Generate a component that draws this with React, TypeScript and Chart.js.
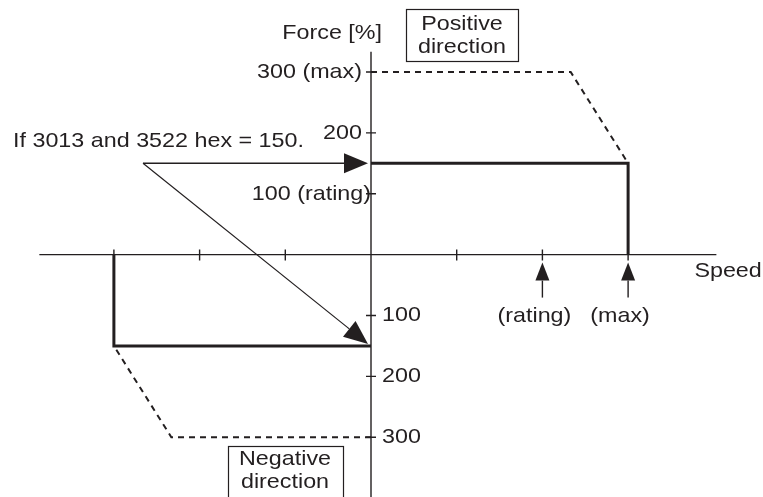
import React, { useEffect, useRef } from "react";
import { Chart, registerables } from "chart.js";

Chart.register(...registerables);

// ---- data ----
const speedTicks = [-3, -2, -1, 1, 2, 3];
const forceTicks = [300, 200, 100, -100, -200, -300];
const forceTickLabels = ["300 (max)", "200", "100 (rating)", "100", "200", "300"];

const posLimitSpeed = [0, 3, 3];
const posLimitForce = [150, 150, 0];
const negLimitSpeed = [0, -3, -3];
const negLimitForce = [-150, -150, 0];

const posMaxSpeed = [0, 2.33, 3];
const posMaxForce = [300, 300, 150];
const negMaxSpeed = [0, -2.33, -3];
const negMaxForce = [-300, -300, -150];

const speedMarks = [2, 3];
const speedMarkLabels = ["(rating)", "(max)"];
const settingValue = 150;
const settingText = "If 3013 and 3522 hex = 150.";

const axisSpeedRange = [-3.87, 4.03];
const axisForceRange = [-400, 333];

const INK = "#231f20";
const FONT_SIZE = 21;
const SX = 1.11;

function pts(xs: number[], ys: number[]) {
  return xs.map((x, i) => ({ x, y: ys[i] }));
}

function text(ctx: CanvasRenderingContext2D, s: string, x: number, y: number, align: "left" | "right" | "center") {
  ctx.save();
  ctx.font = `${FONT_SIZE}px "Liberation Sans", Arial, sans-serif`;
  ctx.fillStyle = INK;
  ctx.textBaseline = "middle";
  ctx.textAlign = align;
  ctx.translate(x, y);
  ctx.scale(SX, 1);
  ctx.fillText(s, 0, 0);
  ctx.restore();
}

function arrow(ctx: CanvasRenderingContext2D, x1: number, y1: number, x2: number, y2: number, len: number, half: number, lw: number) {
  const a = Math.atan2(y2 - y1, x2 - x1);
  const bx = x2 - len * Math.cos(a);
  const by = y2 - len * Math.sin(a);
  ctx.save();
  ctx.strokeStyle = INK;
  ctx.fillStyle = INK;
  ctx.lineWidth = lw;
  ctx.beginPath();
  ctx.moveTo(x1, y1);
  ctx.lineTo(bx, by);
  ctx.stroke();
  ctx.beginPath();
  ctx.moveTo(x2, y2);
  ctx.lineTo(bx + half * Math.sin(a), by - half * Math.cos(a));
  ctx.lineTo(bx - half * Math.sin(a), by + half * Math.cos(a));
  ctx.closePath();
  ctx.fill();
  ctx.restore();
}

function box(ctx: CanvasRenderingContext2D, x: number, y: number, w: number, h: number) {
  ctx.save();
  ctx.strokeStyle = INK;
  ctx.lineWidth = 1.2;
  ctx.strokeRect(x + 0.5, y + 0.5, w, h);
  ctx.restore();
}

const axesPlugin = {
  id: "axesPlugin",
  beforeDatasetsDraw(chart: any) {
    const ctx = chart.ctx as CanvasRenderingContext2D;
    const xs = chart.scales.x;
    const ys = chart.scales.y;
    const x0 = xs.getPixelForValue(0);
    const y0 = ys.getPixelForValue(0);
    ctx.save();
    ctx.strokeStyle = INK;
    ctx.lineWidth = 1.4;
    ctx.beginPath();
    ctx.moveTo(xs.getPixelForValue(axisSpeedRange[0]), y0);
    ctx.lineTo(xs.getPixelForValue(axisSpeedRange[1]), y0);
    ctx.moveTo(x0, ys.getPixelForValue(axisForceRange[1]));
    ctx.lineTo(x0, ys.getPixelForValue(axisForceRange[0]));
    speedTicks.forEach((v) => {
      const px = xs.getPixelForValue(v);
      ctx.moveTo(px, y0 - 5);
      ctx.lineTo(px, y0 + 6);
    });
    forceTicks.forEach((v) => {
      const py = ys.getPixelForValue(v);
      ctx.moveTo(x0 - 5, py);
      ctx.lineTo(x0 + 5, py);
    });
    ctx.stroke();
    ctx.restore();
  },
  afterDatasetsDraw(chart: any) {
    const ctx = chart.ctx as CanvasRenderingContext2D;
    const xs = chart.scales.x;
    const ys = chart.scales.y;
    const x0 = xs.getPixelForValue(0);
    const y0 = ys.getPixelForValue(0);

    // y tick labels
    forceTicks.forEach((v, i) => {
      const py = ys.getPixelForValue(v);
      const lab = forceTickLabels[i];
      if (v > 0) {
        const right = lab.indexOf("rating") >= 0 ? x0 : x0 - 9;
        text(ctx, lab, right, py, "right");
      } else {
        text(ctx, lab, x0 + 11, py, "left");
      }
    });

    // axis titles
    text(ctx, "Force [%]", x0 + 11, 33, "right");
    text(ctx, "Speed", xs.getPixelForValue(axisSpeedRange[1]) - 22, y0 + 17, "left");

    // direction boxes
    box(ctx, 406, 9, 112, 52);
    text(ctx, "Positive", 462, 24, "center");
    text(ctx, "direction", 462, 47, "center");
    box(ctx, 228, 446, 115, 56);
    text(ctx, "Negative", 285, 459, "center");
    text(ctx, "direction", 285, 482, "center");

    // speed marks
    speedMarks.forEach((v, i) => {
      const px = xs.getPixelForValue(v);
      arrow(ctx, px, y0 + 43, px, y0 + 8, 18, 7, 1.4);
      text(ctx, speedMarkLabels[i], px - 8, y0 + 62, "center");
    });

    // setting annotation
    text(ctx, settingText, 13, 141, "left");
    const ox = 143;
    const oy = ys.getPixelForValue(settingValue);
    arrow(ctx, ox, oy, x0 - 3, ys.getPixelForValue(settingValue), 24, 10, 1.4);
    arrow(ctx, ox, oy, x0 - 3, ys.getPixelForValue(-settingValue) - 2, 24, 10, 1.2);
  },
};

export default function App() {
  const ref = useRef<HTMLCanvasElement>(null);
  useEffect(() => {
    document.body.style.margin = "0";
    const canvas = ref.current!;
    const solid = { borderColor: INK, borderWidth: 3, pointRadius: 0, showLine: true, fill: false, tension: 0, borderJoinStyle: "miter" as const, borderCapStyle: "butt" as const };
    const dashed = { ...solid, borderWidth: 2, borderDash: [6, 5] };
    const chart = new Chart(canvas, {
      type: "scatter",
      data: {
        datasets: [
          { ...dashed, data: pts(posMaxSpeed, posMaxForce) },
          { ...dashed, data: pts(negMaxSpeed, negMaxForce) },
          { ...solid, data: pts(posLimitSpeed, posLimitForce) },
          { ...solid, data: pts(negLimitSpeed, negLimitForce) },
        ],
      },
      options: {
        animation: false,
        responsive: false,
        devicePixelRatio: 1,
        layout: { padding: 0 },
        plugins: { legend: { display: false }, tooltip: { enabled: false } },
        scales: {
          x: { type: "linear", display: false, min: -4.329, max: 4.574 },
          y: { type: "linear", display: false, min: -398.2, max: 418.2 },
        },
      },
      plugins: [axesPlugin],
    });
    return () => chart.destroy();
  }, []);
  return <canvas ref={ref} width={763} height={497} style={{ display: "block" }} />;
}
